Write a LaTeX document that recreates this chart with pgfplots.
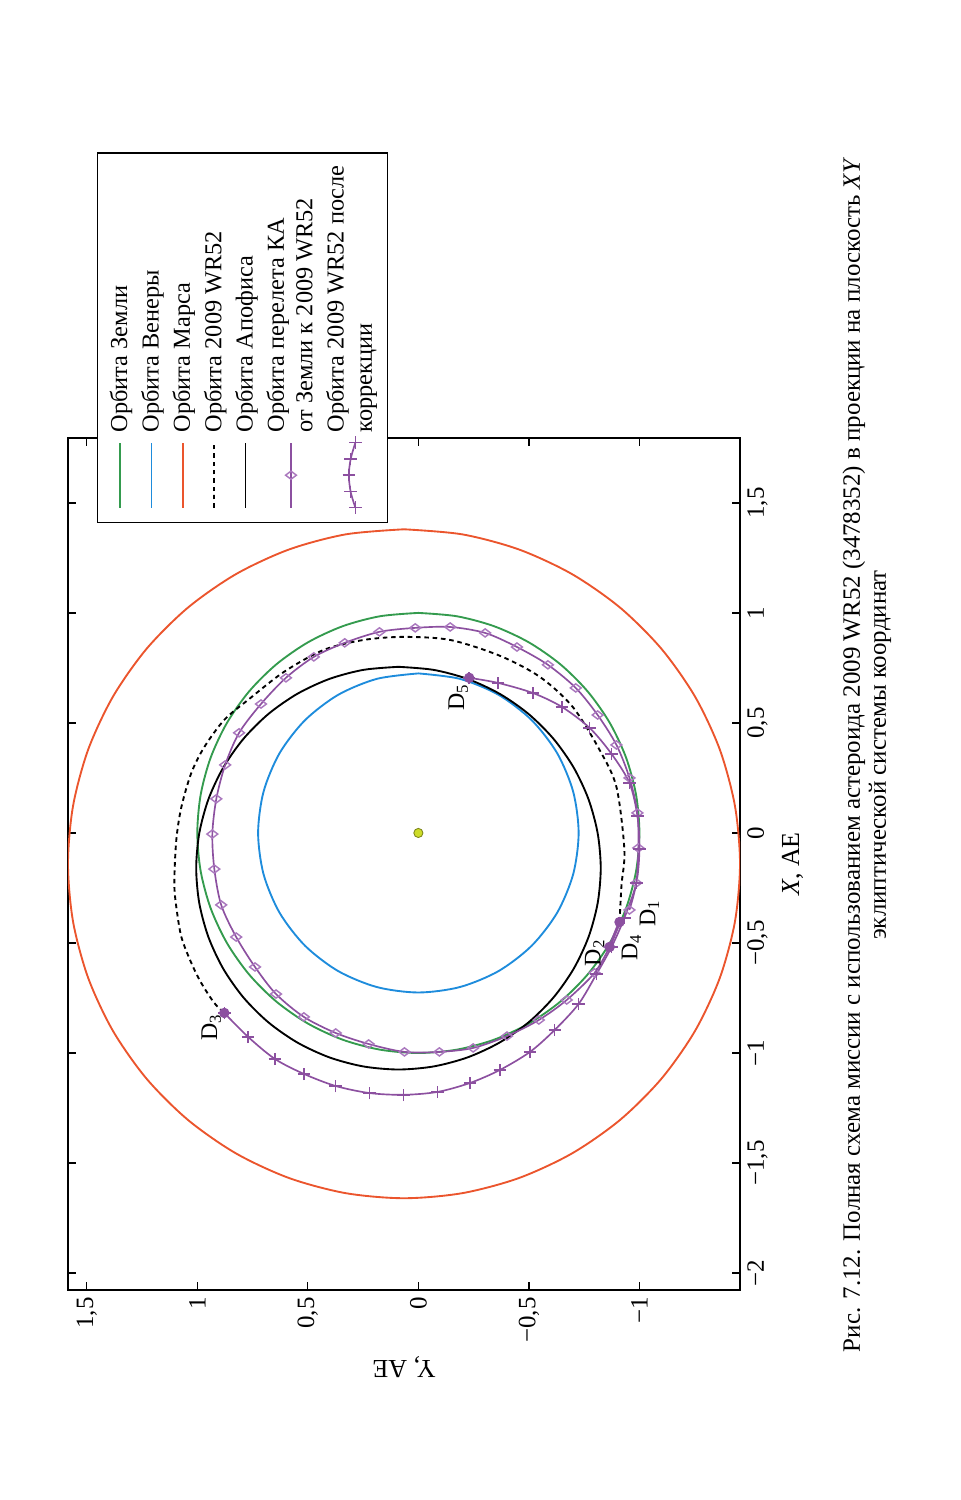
\documentclass[border=0pt]{standalone}
\usepackage{fontspec}
\setmainfont{Liberation Serif}
\usepackage{graphicx}
\usepackage{pgfplots}
\pgfplotsset{compat=1.18}
\definecolor{earthgreen}{RGB}{52,155,78}
\definecolor{venusblue}{RGB}{30,140,220}
\definecolor{marsred}{RGB}{235,85,45}
\definecolor{traj}{RGB}{140,80,160}
\definecolor{trajmark}{RGB}{170,120,190}
\definecolor{sunfill}{RGB}{205,220,40}
\pgfplotsset{
  longlegend/.style={legend image code/.code={\draw[mark repeat=2,mark phase=2,##1] plot coordinates {(0cm,0cm) (0.55cm,0cm) (1.1cm,0cm)};}},
  pluslegend/.style={legend image code/.code={\draw[##1] plot coordinates {(0cm,-0.08cm) (0.27cm,0cm) (0.55cm,0.03cm) (0.82cm,0cm) (1.1cm,-0.08cm)};}},
}
\newsavebox{\chartbox}
\begin{document}
\begin{lrbox}{\chartbox}
\begin{tikzpicture}
\useasboundingbox (0,0) rectangle (25.35,-16.24);
\begin{axis}[
  at={(3.549cm,-12.506cm)}, anchor=south west,
  width=14.399cm, height=11.357cm, scale only axis,
  xmin=-2.077, xmax=1.795, ymin=-1.455, ymax=1.585,
  xtick={-2,-1.5,-1,-0.5,0,0.5,1,1.5},
  xticklabels={−2,{−1,5},−1,{−0,5},0,{0,5},1,{1,5}},
  ytick={-1,-0.5,0,0.5,1,1.5},
  yticklabels={−1,{−0,5},0,{0,5},1,{1,5}},
  tick align=inside, major tick length=4pt,
  tick style={black, line width=0.6pt},
  axis line style={line width=0.8pt},
  ticklabel style={font=\fontsize{12}{14}\selectfont},
  label style={font=\fontsize{12.5}{14}\selectfont},
  xlabel={\textit{X}, АЕ},
  ylabel={Y, АЕ},
  longlegend,
  legend cell align=left,
  legend style={at={(axis cs:1.409,1.455)}, anchor=north west,
    font=\fontsize{11.7}{13.6}\selectfont, cells={align=left},
    draw=black, line width=0.6pt, fill=white, row sep=1.2pt, inner sep=4pt},
]
% Earth
\addplot[earthgreen, line width=0.9pt, smooth] coordinates {
(1,0) (0.9848,0.1736) (0.9397,0.342) (0.866,0.5) (0.766,0.6428) (0.6428,0.766) (0.5,0.866)
(0.342,0.9397) (0.1736,0.9848) (0,1) (-0.1736,0.9848) (-0.342,0.9397) (-0.5,0.866)
(-0.6428,0.766) (-0.766,0.6428) (-0.866,0.5) (-0.9397,0.342) (-0.9848,0.1736) (-1,0)
(-0.9848,-0.1736) (-0.9397,-0.342) (-0.866,-0.5) (-0.766,-0.6428) (-0.6428,-0.766) (-0.5,-0.866)
(-0.342,-0.9397) (-0.1736,-0.9848) (0,-1) (0.1736,-0.9848) (0.342,-0.9397) (0.5,-0.866)
(0.6428,-0.766) (0.766,-0.6428) (0.866,-0.5) (0.9397,-0.342) (0.9848,-0.1736) (1,0)};
\addlegendentry{Орбита Земли}
% Venus
\addplot[venusblue, line width=0.9pt, smooth] coordinates {
(0.725,0) (0.7003,0.1876) (0.6279,0.3625) (0.5126,0.5126) (0.3625,0.6279) (0.1876,0.7003)
(0,0.725) (-0.1876,0.7003) (-0.3625,0.6279) (-0.5126,0.5126) (-0.6279,0.3625) (-0.7003,0.1876)
(-0.725,0) (-0.7003,-0.1876) (-0.6279,-0.3625) (-0.5126,-0.5126) (-0.3625,-0.6279) (-0.1876,-0.7003)
(0,-0.725) (0.1876,-0.7003) (0.3625,-0.6279) (0.5126,-0.5126) (0.6279,-0.3625) (0.7003,-0.1876) (0.725,0)};
\addlegendentry{Орбита Венеры}
% Mars
\addplot[marsred, line width=0.9pt, smooth] coordinates {
(1.38,0.065) (1.3569,0.3289) (1.2883,0.5848) (1.1763,0.825) (1.0243,1.0421) (0.8371,1.2293)
(0.62,1.3813) (0.3798,1.4933) (0.1239,1.5619) (-0.14,1.585) (-0.4039,1.5619) (-0.6598,1.4933)
(-0.9,1.3813) (-1.1171,1.2293) (-1.3043,1.0421) (-1.4563,0.825) (-1.5683,0.5848) (-1.6369,0.3289)
(-1.66,0.065) (-1.6369,-0.1989) (-1.5683,-0.4548) (-1.4563,-0.695) (-1.3043,-0.9121) (-1.1171,-1.0993)
(-0.9,-1.2513) (-0.6598,-1.3633) (-0.4039,-1.4319) (-0.14,-1.455) (0.1239,-1.4319) (0.3798,-1.3633)
(0.62,-1.2513) (0.8371,-1.0993) (1.0243,-0.9121) (1.1763,-0.695) (1.2883,-0.4548) (1.3569,-0.1989)
(1.38,0.065)};
\addlegendentry{Орбита Марса}
% 2009 WR52, D4 -> D3
\addplot[black, line width=0.9pt, smooth, dash pattern=on 2.2pt off 1.8pt] coordinates {
(-0.405,-0.91) (-0.236,-0.919) (-0.077,-0.932) (0.209,-0.896) (0.377,-0.82) (0.573,-0.698)
(0.709,-0.55) (0.805,-0.369) (0.877,-0.144) (0.891,0.068) (0.877,0.248) (0.832,0.428)
(0.732,0.608) (0.605,0.77) (0.514,0.878) (0.391,0.968) (0.273,1.027) (0.118,1.072)
(-0.032,1.095) (-0.227,1.104) (-0.336,1.095) (-0.473,1.072) (-0.591,1.027) (-0.682,0.982)
(-0.773,0.923) (-0.818,0.878)};
\addlegendentry{Орбита 2009 WR52}
% Apophis
\addplot[black, line width=0.9pt, smooth] coordinates {
(0.755,0.09) (0.7411,0.2488) (0.6998,0.4029) (0.6324,0.5475) (0.5409,0.6782) (0.4282,0.7909)
(0.2975,0.8824) (0.1529,0.9498) (-0.0012,0.9911) (-0.16,1.005) (-0.3188,0.9911) (-0.4729,0.9498)
(-0.6175,0.8824) (-0.7482,0.7909) (-0.8609,0.6782) (-0.9524,0.5475) (-1.0198,0.4029) (-1.0611,0.2488)
(-1.075,0.09) (-1.0611,-0.0688) (-1.0198,-0.2229) (-0.9524,-0.3675) (-0.8609,-0.4982) (-0.7482,-0.6109)
(-0.6175,-0.7024) (-0.4729,-0.7698) (-0.3188,-0.8111) (-0.16,-0.825) (-0.0012,-0.8111) (0.1529,-0.7698)
(0.2975,-0.7024) (0.4282,-0.6109) (0.5409,-0.4982) (0.6324,-0.3675) (0.6998,-0.2229) (0.7411,-0.0688)
(0.755,0.09)};
\addlegendentry{Орбита Апофиса}
% transfer Earth -> 2009 WR52, D1 -> D2
\addplot[traj, line width=0.8pt, smooth, mark=diamond, mark size=2.6pt,
  mark options={trajmark, solid, line width=0.7pt}] coordinates {
(-0.35,-0.955) (-0.227,-0.986) (-0.068,-0.995) (0.091,-0.991) (0.25,-0.955) (0.4,-0.896)
(0.536,-0.811) (0.659,-0.712) (0.764,-0.586) (0.845,-0.446) (0.909,-0.302) (0.936,-0.144)
(0.932,0.014) (0.914,0.176) (0.864,0.333) (0.8,0.473) (0.705,0.599) (0.586,0.712)
(0.455,0.811) (0.309,0.874) (0.155,0.914) (-0.005,0.932) (-0.164,0.923) (-0.327,0.892)
(-0.473,0.824) (-0.609,0.739) (-0.732,0.644) (-0.836,0.518) (-0.909,0.374) (-0.959,0.225)
(-0.995,0.063) (-0.995,-0.095) (-0.977,-0.248) (-0.923,-0.401) (-0.85,-0.545) (-0.759,-0.671)
(-0.636,-0.797) (-0.518,-0.865)};
\addlegendentry{Орбита перелета КА\\от Земли к 2009 WR52}
% corrected orbit, D3 -> D5
\addplot[traj, line width=0.8pt, smooth, mark=+, mark size=3pt,
  mark options={traj, solid, line width=0.7pt}, pluslegend] coordinates {
(-0.818,0.878) (-0.927,0.77) (-1.027,0.649) (-1.095,0.518) (-1.15,0.374) (-1.182,0.221)
(-1.19,0.068) (-1.177,-0.086) (-1.136,-0.234) (-1.077,-0.369) (-0.995,-0.505) (-0.895,-0.617)
(-0.777,-0.725) (-0.641,-0.806) (-0.518,-0.874) (-0.386,-0.932) (-0.227,-0.986) (-0.073,-1.0)
(0.077,-0.991) (0.227,-0.955) (0.359,-0.874) (0.477,-0.775) (0.573,-0.649) (0.636,-0.518)
(0.682,-0.36) (0.705,-0.23)};
\addlegendentry{Орбита 2009 WR52 после\\коррекции}
% D2 - D4 segment and manoeuvre points
\addplot[traj, line width=1.4pt, forget plot] coordinates {(-0.518,-0.865) (-0.405,-0.91)};
\addplot[only marks, mark=*, mark size=2.3pt, mark options={fill=traj, draw=traj}, forget plot]
  coordinates {(-0.518,-0.865) (-0.405,-0.91) (-0.818,0.878) (0.705,-0.23)};
% Sun
\addplot[only marks, mark=*, mark size=2.2pt, mark options={fill=sunfill, draw=sunfill!60!black, line width=0.4pt}, forget plot]
  coordinates {(0,0)};
\node[font=\fontsize{11.5}{13}\selectfont] at (axis cs:-0.364,-1.045) {D\textsubscript{1}};
\node[font=\fontsize{11.5}{13}\selectfont] at (axis cs:-0.545,-0.797) {D\textsubscript{2}};
\node[font=\fontsize{11.5}{13}\selectfont] at (axis cs:-0.882,0.937) {D\textsubscript{3}};
\node[font=\fontsize{11.5}{13}\selectfont] at (axis cs:-0.518,-0.964) {D\textsubscript{4}};
\node[font=\fontsize{11.5}{13}\selectfont] at (axis cs:0.618,-0.18) {D\textsubscript{5}};
\end{axis}
\node[align=center, font=\fontsize{12}{12.5}\selectfont] at (12.59,-14.65)
  {Рис. 7.12. Полная схема миссии с использованием астероида 2009 WR52 (3478352) в проекции на плоскость \textit{XY}\\эклиптической системы координат};
\end{tikzpicture}
\end{lrbox}%
\rotatebox{90}{\usebox{\chartbox}}
\end{document}
